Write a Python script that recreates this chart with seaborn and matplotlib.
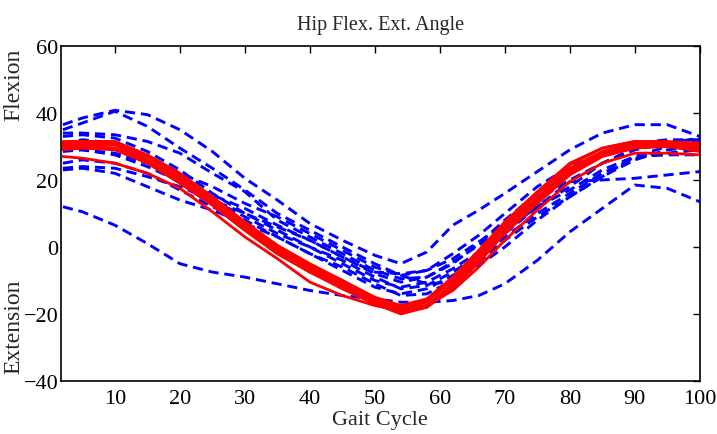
import matplotlib
matplotlib.use("Agg")
import matplotlib.pyplot as plt
import seaborn as sns

# gait cycle samples (percent)
gait = [2, 5, 10, 15, 20, 25, 30, 35, 40, 45, 50, 54, 58, 62, 66, 70, 75, 80, 85, 90, 95, 100]

# dashed blue trials
blue_1 = [36.5, 38.5, 40.8, 39.5, 35, 28.5, 20.5, 14, 7, 2, -2.5, -5, -1.5, 6.5, 11, 16, 22.5, 29, 34, 36.5, 36.5, 33]
blue_2 = [35, 37, 40.5, 36, 29.5, 23.5, 17, 10, 5, 0, -5, -8.5, -7, -2, 3.5, 10, 18, 24, 28, 30, 31, 32.5]
blue_3 = [34, 34, 33.5, 31.5, 28, 22, 16.5, 8, 3, -2, -7, -9.5, -9, -5, 1, 8, 16, 23, 28, 31, 32, 32]
blue_4 = [33, 33.5, 32.5, 28.5, 23, 16, 10, 5, 0, -4, -9, -12.5, -11.5, -7.5, -2.5, 4, 12, 19.5, 20, 20.5, 21.5, 22.5]
blue_5 = [29, 29, 28, 25, 20, 14, 9, 4, 0, -5, -10, -12, -10.5, -6.5, -1.5, 5, 12, 17, 23, 27, 27.5, 27.5]
blue_6 = [23.5, 24, 23.5, 21, 18, 14, 10, 6, 2, -3, -8, -10.5, -9, -4.5, 0.5, 6, 12, 18, 25, 29.5, 31, 31.5]
blue_7 = [23, 23.5, 22, 18, 14, 11, 7, 3, -2, -6, -11, -14.5, -14, -10, -4.5, 2, 9, 15, 21, 27, 30, 31]
blue_8 = [12, 10.5, 6.5, 1, -5, -7.5, -9, -11, -13, -14.5, -15.5, -16.5, -16.5, -16, -14.5, -11, -4, 4.5, 11.5, 18.5, 17.5, 13.5]
blue_9 = [31, 32, 31, 27, 22, 18, 13, 9, 4, -1, -6, -8.5, -11, -10.5, -5.5, 0, 8, 15, 21, 26, 29, 30]
blue_10 = [28.5, 29, 27.5, 24, 19.5, 15.5, 11.5, 6.5, 2, -3, -7.5, -8, -7, -3.5, 1.5, 7, 14, 20, 25, 29, 31, 32]
blue_11 = [25, 26, 25, 22, 17, 12, 8, 3, -2, -7, -12, -14, -12.5, -8.5, -3.5, 3, 10, 16, 22, 26.5, 28, 29]

# solid red trials
red_1 = [31.5, 31.5, 31, 27, 21.5, 14.5, 7, 0, -5.5, -10, -15.5, -18, -16, -9.5, -2, 7, 16, 24.5, 29.5, 31.5, 31.5, 31]
red_2 = [30.5, 31, 30.5, 26, 20.5, 13.5, 6, -1, -6.5, -11, -16, -18.5, -16.5, -10, -2.5, 6, 15, 23.5, 28.5, 31, 31, 30]
red_3 = [29.5, 30, 29.5, 25.5, 20, 13, 5.5, -1.5, -7, -11.5, -16.5, -19.5, -17.5, -11, -3.5, 5.5, 14.5, 23, 28, 30.5, 30.5, 29.5]
red_4 = [30, 30.5, 30.5, 27, 21, 14, 6.5, -0.5, -6, -10.5, -15.5, -18.5, -17.5, -12, -4.5, 4.5, 13.5, 22, 27.5, 30, 30.5, 30.5]
red_5 = [31, 31.5, 31.5, 27.5, 22, 15, 7.5, 0.5, -5, -10, -15, -17.5, -15.5, -9, -1, 7.5, 16.5, 25, 29.5, 31.5, 31, 29]
red_6 = [29, 29.5, 29, 25, 19, 12.5, 5, -2, -7.5, -12, -17, -19.5, -18, -12.5, -4.5, 4, 13, 21.5, 27, 29.5, 30, 30.5]
red_7 = [30, 30, 29.5, 25.5, 19.5, 12.5, 5, -2, -7.5, -12.5, -17, -20, -18, -11.5, -3.5, 5, 14, 22.5, 27.5, 30, 30, 28.5]
red_8 = [27, 26.5, 25, 22, 17.5, 10.5, 3, -3.5, -10.5, -14.5, -17.5, -19, -17.5, -13, -6, 2, 11, 19.5, 25, 28, 28, 27.5]

blue_trials = [blue_1, blue_2, blue_3, blue_4, blue_5, blue_6, blue_7, blue_8, blue_9, blue_10, blue_11]
red_trials = [red_1, red_2, red_3, red_4, red_5, red_6, red_7, red_8]

sns.set_style("white")
plt.rcParams["font.family"] = ["Liberation Serif", "DejaVu Serif"]

fig = plt.figure(figsize=(7.17, 4.35), dpi=100)
ax = fig.add_axes([0.085, 0.122, 0.891, 0.770])

for vals in blue_trials:
    sns.lineplot(x=gait, y=vals, color="#0000ff", linewidth=2.1,
                 linestyle=(0, (3.5, 2)), ax=ax)
for vals in red_trials:
    sns.lineplot(x=gait, y=vals, color="#ff0000", linewidth=2.0, ax=ax)

ax.set_xlim(1.7, 100)
ax.set_ylim(-40, 60)
ax.set_xticks(range(10, 101, 10))
ax.set_yticks(range(-40, 61, 20))
ax.tick_params(direction="in", length=5, width=1, top=True, right=True,
               labelsize=16, colors="black")
ax.tick_params(axis="x", pad=6)
ax.tick_params(axis="y", pad=2)
for s in ax.spines.values():
    s.set_visible(True)
    s.set_color("black")
    s.set_linewidth(1.2)

ax.set_title("Hip Flex. Ext. Angle", fontsize=14.5, pad=12)
ax.set_xlabel("Gait Cycle", fontsize=16, labelpad=1)
ax.set_ylabel("")
fig.text(0.02, 0.806, "Flexion", rotation=90, ha="center", va="center", fontsize=17)
fig.text(0.02, 0.249, "Extension", rotation=90, ha="center", va="center", fontsize=17)

fig.savefig("out.png", dpi=100)
